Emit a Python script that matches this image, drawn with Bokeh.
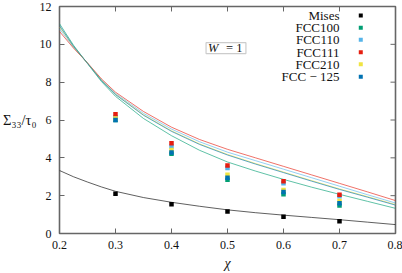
from bokeh.plotting import figure
from bokeh.models import FixedTicker, Label, BoxAnnotation, Range1d
from bokeh.embed import file_html
from bokeh.resources import INLINE

# ---- data ----
chi_curve = [0.2, 0.225, 0.25, 0.275, 0.3, 0.35, 0.4, 0.45, 0.5, 0.55, 0.6, 0.65, 0.7, 0.75, 0.8]
mises_curve = [3.33, 3.0, 2.72, 2.46, 2.23, 1.90, 1.65, 1.44, 1.25, 1.10, 0.97, 0.85, 0.73, 0.60, 0.47]
fcc100_curve = [11.09, 9.95, 8.98, 8.03, 7.25, 6.08, 5.17, 4.40, 3.78, 3.30, 2.86, 2.45, 2.07, 1.70, 1.33]
fcc110_curve = [10.82, 9.85, 9.00, 8.12, 7.40, 6.35, 5.52, 4.85, 4.30, 3.85, 3.40, 2.95, 2.50, 2.05, 1.61]
fcc111_curve = [10.68, 9.80, 9.02, 8.17, 7.47, 6.45, 5.62, 4.97, 4.45, 4.00, 3.55, 3.10, 2.65, 2.20, 1.74]
fcc210_curve = [10.92, 9.88, 9.00, 8.10, 7.36, 6.28, 5.43, 4.74, 4.18, 3.70, 3.25, 2.80, 2.36, 1.95, 1.53]
fcc125_curve = [10.98, 9.90, 9.00, 8.08, 7.34, 6.25, 5.40, 4.71, 4.15, 3.67, 3.22, 2.77, 2.33, 1.92, 1.50]

chi_pts = [0.3, 0.4, 0.5, 0.6, 0.7]
mises_pts = [2.10, 1.54, 1.16, 0.88, 0.65]
fcc100_pts = [6.00, 4.22, 2.84, 2.08, 1.48]
fcc110_pts = [6.15, 4.60, 3.46, 2.65, 1.97]
fcc111_pts = [6.30, 4.77, 3.60, 2.76, 2.05]
fcc210_pts = [6.08, 4.42, 3.10, 2.30, 1.72]
fcc125_pts = [6.00, 4.28, 2.95, 2.20, 1.60]

series_names = ["Mises", "FCC100", "FCC110", "FCC111", "FCC210", "FCC \u2212 125"]
x_ticks = [0.2, 0.3, 0.4, 0.5, 0.6, 0.7, 0.8]
y_ticks = [0, 2, 4, 6, 8, 10, 12]

colors = ["#000000", "#009e73", "#56b4e9", "#e51e10", "#f0e442", "#0072b2"]
FONT = "Liberation Serif"
X0, X1, Y0, Y1 = 0.2, 0.8, 0, 12

p = figure(width=402, height=273, output_backend="svg", toolbar_location=None,
           x_range=Range1d(X0, X1), y_range=Range1d(Y0, Y1),
           min_border_left=58, min_border_right=7, min_border_top=6, min_border_bottom=39,
           margin=0)
p.grid.visible = False
p.outline_line_color = "#666666"
p.outline_line_width = 1.6
p.background_fill_color = "white"
p.border_fill_color = "white"

for ax, tk in ((p.xaxis[0], x_ticks), (p.yaxis[0], y_ticks)):
    ax.ticker = FixedTicker(ticks=tk)
    ax.axis_line_color = None
    ax.major_tick_in = 5
    ax.major_tick_out = 0
    ax.major_tick_line_color = "#666666"
    ax.minor_tick_line_color = None
    ax.major_label_text_font = FONT
    ax.major_label_text_font_size = "12px"
    ax.major_label_text_color = "#111111"
    ax.axis_label_text_font = FONT
    ax.axis_label_text_font_size = "14px"
    ax.axis_label_text_color = "#111111"
p.xaxis[0].major_label_standoff = 7
p.yaxis[0].major_label_standoff = 8

p.xaxis[0].axis_label = "\u03c7"
p.xaxis[0].axis_label_text_font_style = "italic"
p.xaxis[0].axis_label_standoff = 4
p.yaxis[0].axis_label = "\u03a3\u2083\u2083/\u03c4\u2080"
p.yaxis[0].axis_label_text_font_style = "normal"
p.yaxis[0].axis_label_text_font_size = "14.5px"
p.yaxis[0].axis_label_orientation = "horizontal"
p.yaxis[0].axis_label_standoff = 0

# mirrored inward ticks on the top and right edges
tick_dy = 5 / 19.0
tick_dx = 5 / 561.7
p.segment(x0=x_ticks, y0=[Y1] * len(x_ticks), x1=x_ticks, y1=[Y1 - tick_dy] * len(x_ticks),
          line_color="#666666", line_width=1)
p.segment(x0=[X1] * len(y_ticks), y0=y_ticks, x1=[X1 - tick_dx] * len(y_ticks), y1=y_ticks,
          line_color="#666666", line_width=1)

curves = [mises_curve, fcc100_curve, fcc110_curve, fcc111_curve, fcc210_curve, fcc125_curve]
points = [mises_pts, fcc100_pts, fcc110_pts, fcc111_pts, fcc210_pts, fcc125_pts]

for c, col in zip(curves, colors):
    p.line(chi_curve, c, line_color=col, line_width=0.9, line_alpha=0.7)
for pts, col in zip(points, colors):
    p.scatter(chi_pts, pts, marker="square", size=4.5, fill_color=col, line_color=col, line_width=0)

# legend (gnuplot style: text then sample)
leg_text_x = 0.700
leg_mark_x = 0.738
leg_y = [11.53, 10.88, 10.24, 9.58, 8.95, 8.28]
p.scatter([leg_mark_x] * len(leg_y), leg_y, marker="square", size=4, fill_color=colors,
          line_color=colors, line_width=0)
for name, yy in zip(series_names, leg_y):
    p.add_layout(Label(x=leg_text_x, y=yy, text=name, text_align="right", text_baseline="middle",
                       text_font=FONT, text_font_size="13px", text_color="#111111"))

# W = 1 box
p.add_layout(BoxAnnotation(left=0.4617, right=0.5329, bottom=9.51, top=10.09,
                           fill_alpha=0, line_color="#555555", line_width=1.2))
p.add_layout(Label(x=0.4653, y=9.80, text="W", text_align="left", text_baseline="middle",
                   text_font=FONT, text_font_style="italic", text_font_size="12.5px", text_color="#111111"))
p.add_layout(Label(x=0.4973, y=9.80, text="= 1", text_align="left", text_baseline="middle",
                   text_font=FONT, text_font_size="12.5px", text_color="#111111"))

open("out.html", "w").write(file_html(p, INLINE))
